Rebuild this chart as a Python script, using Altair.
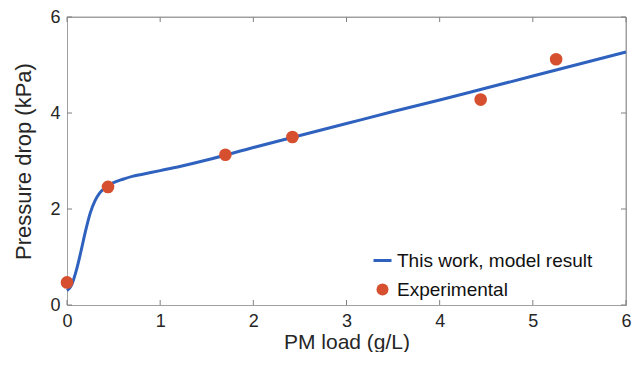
import altair as alt
import pandas as pd

# Model curve
model_x = [0.0, 0.05, 0.1, 0.15, 0.2, 0.25, 0.3, 0.35, 0.4, 0.45, 0.5, 0.6, 0.7,
           0.8, 1.0, 1.2, 1.5, 2.0, 2.5, 3.0, 3.5, 4.0, 4.5, 5.0, 5.5, 6.0]
model_y = [0.30, 0.42, 0.72, 1.12, 1.55, 1.92, 2.17, 2.33, 2.43, 2.50, 2.55, 2.62, 2.68,
           2.72, 2.80, 2.88, 3.02, 3.28, 3.53, 3.78, 4.03, 4.27, 4.52, 4.77, 5.02, 5.27]

# Experimental points
exp_x = [0.0, 0.44, 1.70, 2.42, 4.44, 5.25]
exp_y = [0.47, 2.46, 3.13, 3.50, 4.28, 5.12]

series_names = ["This work, model result", "Experimental"]
series_colors = ["#2F62BE", "#D6502F"]
x_ticks = [0, 1, 2, 3, 4, 5, 6]
y_ticks = [0, 2, 4, 6]

model_df = pd.DataFrame({"x": model_x, "y": model_y, "series": series_names[0]})
exp_df = pd.DataFrame({"x": exp_x, "y": exp_y, "series": series_names[1]})
xt_df = pd.DataFrame({"x": x_ticks})
yt_df = pd.DataFrame({"y": y_ticks})
top_df = pd.DataFrame({"y": [max(y_ticks)]})
right_df = pd.DataFrame({"x": [max(x_ticks)]})

FONT = "Liberation Sans"
W, H = 559, 288
FRAME = "#a0a0a0"

xscale = alt.Scale(domain=[0, 6], nice=False, zero=False, padding=0)
yscale = alt.Scale(domain=[0, 6], nice=False, zero=False, padding=0)

color_scale = alt.Scale(domain=series_names, range=series_colors)
shape_scale = alt.Scale(domain=series_names,
                        range=["M-1.5,-0.25H1.5V0.25H-1.5Z", "circle"])

xaxis = alt.Axis(values=x_ticks, format="d", ticks=False, domain=True, domainColor=FRAME,
                 domainWidth=1, grid=False,
                 labelFlush=False, labelFontSize=18, labelPadding=7, labelColor="#262626",
                 title="PM load (g/L)", titleFontSize=21, titleFontWeight="normal",
                 titleColor="#262626", titlePadding=1, labelFont=FONT, titleFont=FONT)
yaxis = alt.Axis(values=y_ticks, format="d", ticks=False, domain=True, domainColor=FRAME,
                 domainWidth=1, grid=False,
                 labelFlush=False, labelFontSize=18, labelPadding=7, labelColor="#262626",
                 title="Pressure drop (kPa)", titleFontSize=22, titleFontWeight="normal",
                 titleColor="#262626", titlePadding=14, labelFont=FONT, titleFont=FONT)

legend = alt.Legend(title=None, orient="none", legendX=306, legendY=234,
                    labelFontSize=19, labelFont=FONT, labelColor="#111111", labelLimit=400,
                    symbolSize=144, labelOffset=5, rowPadding=9,
                    padding=0, symbolStrokeWidth=0, symbolOpacity=1)

line = alt.Chart(model_df).mark_line(strokeWidth=3, interpolate="monotone").encode(
    x=alt.X("x:Q", scale=xscale, axis=xaxis),
    y=alt.Y("y:Q", scale=yscale, axis=yaxis),
    color=alt.Color("series:N", scale=color_scale, legend=legend),
)

points = alt.Chart(exp_df).mark_point(filled=True, size=160, opacity=1).encode(
    x=alt.X("x:Q", scale=xscale, axis=xaxis),
    y=alt.Y("y:Q", scale=yscale, axis=yaxis),
    color=alt.Color("series:N", scale=color_scale, legend=legend),
    shape=alt.Shape("series:N", scale=shape_scale, legend=legend),
)

top_rule = alt.Chart(top_df).mark_rule(color=FRAME, strokeWidth=1).encode(
    y=alt.Y("y:Q", scale=yscale))
right_rule = alt.Chart(right_df).mark_rule(color=FRAME, strokeWidth=1).encode(
    x=alt.X("x:Q", scale=xscale))

tick_col = "#808080"
bx = alt.Chart(xt_df).mark_rule(color=tick_col, strokeWidth=1).encode(
    x=alt.X("x:Q", scale=xscale), y=alt.value(H), y2=alt.value(H - 5))
tx = alt.Chart(xt_df).mark_rule(color=tick_col, strokeWidth=1).encode(
    x=alt.X("x:Q", scale=xscale), y=alt.value(0), y2=alt.value(5))
ly = alt.Chart(yt_df).mark_rule(color=tick_col, strokeWidth=1).encode(
    y=alt.Y("y:Q", scale=yscale), x=alt.value(0), x2=alt.value(5))
ry = alt.Chart(yt_df).mark_rule(color=tick_col, strokeWidth=1).encode(
    y=alt.Y("y:Q", scale=yscale), x=alt.value(W), x2=alt.value(W - 5))

chart = alt.layer(top_rule, right_rule, bx, tx, ly, ry, line, points).properties(
    width=W, height=H,
    padding={"left": 4, "top": 0, "right": 0, "bottom": 0},
    background="white",
).configure_view(
    stroke=FRAME, strokeWidth=1
)

chart.save("out.html", embed_options={"renderer": "svg", "actions": False})
